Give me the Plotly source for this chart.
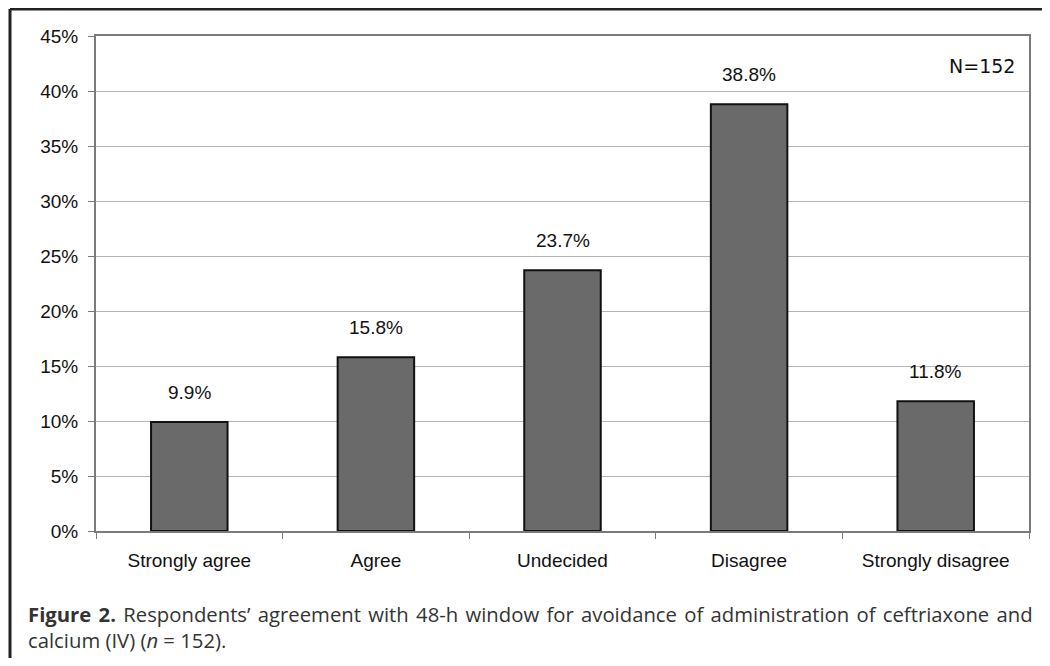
import plotly.graph_objects as go

categories = ["Strongly agree", "Agree", "Undecided", "Disagree", "Strongly disagree"]
values = [9.9, 15.8, 23.7, 38.8, 11.8]
value_labels = ["9.9%", "15.8%", "23.7%", "38.8%", "11.8%"]
y_ticks = [0, 5, 10, 15, 20, 25, 30, 35, 40, 45]
y_tick_labels = [f"{t}%" for t in y_ticks]
n_label = "N=152"
caption_words = ["<b>Figure", "2.</b>", "Respondents’", "agreement", "with", "48-h", "window",
                 "for", "avoidance", "of", "administration", "of", "ceftriaxone", "and"]
caption_line2 = "calcium (IV) (<i>n</i> = 152)."

OFF = 8  # browser body margin
W, H = 1050 - 2 * OFF, 666 - 2 * OFF
# plot area in page pixels
PL, PR, PT, PB = 96, 1029, 36, 531
L, R, T, B = PL - OFF, W - (PR - OFF), PT - OFF, H - (PB - OFF)
pw, ph = W - L - R, H - T - B

def px_x(x):
    return (x - OFF - L) / pw

def px_y(y):
    return (H - B - (y - OFF)) / ph

fig = go.Figure()
fig.add_trace(go.Bar(
    x=categories, y=values,
    marker=dict(color="#6a6a6a", line=dict(color="#111111", width=2)),
    width=0.41,
    hoverinfo="skip",
))

for c, v, t in zip(categories, values, value_labels):
    fig.add_annotation(x=c, y=v, text=t, showarrow=False, yshift=30,
                       xanchor="center", yanchor="middle",
                       font=dict(family="Liberation Sans, Arial", size=19, color="#111111"))

fig.add_annotation(xref="paper", yref="paper", x=px_x(982), y=px_y(66), text=n_label,
                   xanchor="center", yanchor="middle",
                   showarrow=False, font=dict(family="DejaVu Sans", size=19, color="#111111"))

sp = " \u200a"
fig.add_annotation(xref="paper", yref="paper", x=px_x(26), y=px_y(627), xanchor="left",
                   yanchor="middle", align="left",
                   text=sp.join(caption_words) + "<br>" + caption_line2, showarrow=False,
                   font=dict(family="Open Sans", size=20.3, color="#333333"))

# outer frame of the figure panel
for (x0, y0, x1, y1) in [(10, 9, 1100, 9), (10, 9, 10, 720)]:
    fig.add_shape(type="line", xref="paper", yref="paper",
                  x0=px_x(x0), y0=px_y(y0), x1=px_x(x1), y1=px_y(y1),
                  line=dict(color="#222222", width=3))

fig.update_layout(
    width=W, height=H,
    margin=dict(l=L, r=R, t=T, b=B),
    paper_bgcolor="white", plot_bgcolor="white",
    showlegend=False,
    bargap=0.59,
)
fig.update_xaxes(
    showline=True, linecolor="#7a7a7a", linewidth=2, mirror=True,
    ticks="outside", tickson="boundaries", ticklen=6, tickcolor="#7a7a7a",
    ticklabelstandoff=11,
    tickfont=dict(family="Liberation Sans, Arial", size=19, color="#111111"),
    showgrid=False,
)
fig.update_yaxes(
    range=[0, 45], tickvals=y_ticks, ticktext=y_tick_labels,
    showline=True, linecolor="#7a7a7a", linewidth=2, mirror=True,
    ticks="outside", ticklen=6, tickcolor="#7a7a7a",
    ticklabelstandoff=6,
    showgrid=True, gridcolor="#b5b5b5", gridwidth=1,
    tickfont=dict(family="Liberation Sans, Arial", size=19, color="#111111"),
    zeroline=False,
)

fig.write_html("out.html")
